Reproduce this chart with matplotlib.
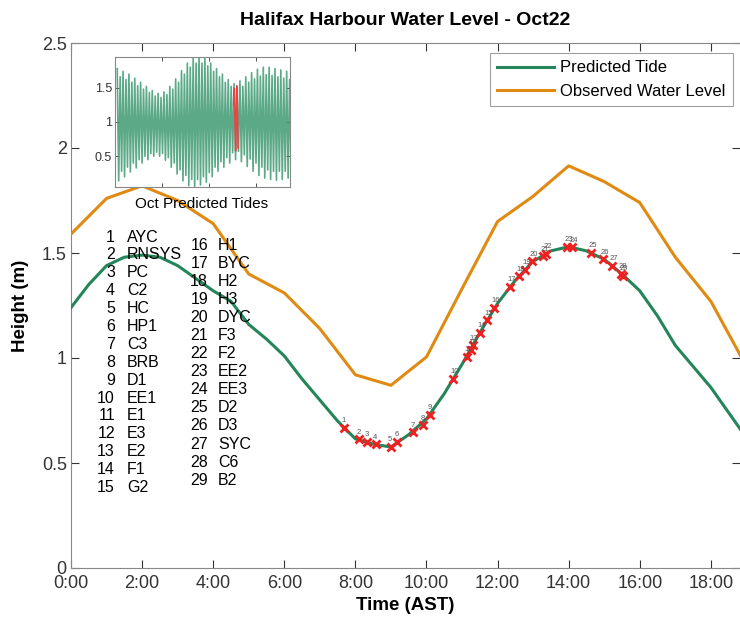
import numpy as np
import matplotlib
matplotlib.use('Agg')
import matplotlib.pyplot as plt

plt.rcParams['font.family'] = ['Liberation Sans', 'DejaVu Sans']

# Oct 22 predicted tide, half-hourly (hours AST, metres)
pred_hours = [0.0, 0.5, 1.0, 1.5, 2.0, 2.5, 3.0, 3.5, 4.0, 4.5, 5.0, 5.5, 6.0, 6.5,
              7.0, 7.5, 8.0, 8.5, 9.0, 9.5, 10.0, 10.5, 11.0, 11.5, 12.0, 12.5,
              13.0, 13.5, 14.0, 14.5, 15.0, 15.5, 16.0, 16.5, 17.0, 17.5, 18.0,
              18.5, 19.0]
pred_height = [1.24, 1.35, 1.44, 1.48, 1.49, 1.48, 1.44, 1.38, 1.32, 1.27, 1.16, 1.09,
               1.01, 0.90, 0.80, 0.70, 0.615, 0.59, 0.576, 0.635, 0.71, 0.83, 0.97,
               1.12, 1.26, 1.37, 1.46, 1.51, 1.53, 1.51, 1.47, 1.40, 1.32, 1.20, 1.06,
               0.96, 0.86, 0.74, 0.62]

# hourly observed water level
obs_hours = list(range(20))
obs_height = [1.59, 1.76, 1.82, 1.75, 1.64, 1.40, 1.31, 1.14, 0.92, 0.87, 1.005,
              1.33, 1.65, 1.77, 1.915, 1.84, 1.74, 1.48, 1.27, 0.96]

# station visit times and tide heights
stn_num = list(range(1, 30))
stn_name = ['AYC', 'RNSYS', 'PC', 'C2', 'HC', 'HP1', 'C3', 'BRB', 'D1', 'EE1',
            'E1', 'E3', 'E2', 'F1', 'G2', 'H1', 'BYC', 'H2', 'H3', 'DYC',
            'F3', 'F2', 'EE2', 'EE3', 'D2', 'D3', 'SYC', 'C6', 'B2']
stn_time = [7.68, 8.10, 8.33, 8.58, 9.00, 9.18, 9.62, 9.90, 10.10, 10.75,
            11.14, 11.25, 11.30, 11.50, 11.70, 11.90, 12.35, 12.60, 12.77, 12.97,
            13.28, 13.36, 13.95, 14.10, 14.63, 14.97, 15.22, 15.47, 15.52]
stn_height = [0.667, 0.614, 0.600, 0.590, 0.576, 0.600, 0.647, 0.680, 0.730, 0.900,
              1.005, 1.040, 1.060, 1.120, 1.180, 1.240, 1.340, 1.390, 1.420, 1.460,
              1.485, 1.495, 1.530, 1.528, 1.500, 1.470, 1.440, 1.400, 1.392]

# October predicted high / low waters (one per tidal cycle)
oct_high = [1.78, 1.66, 1.74, 1.62, 1.70, 1.58, 1.64, 1.53, 1.58, 1.48,
            1.52, 1.43, 1.46, 1.38, 1.42, 1.36, 1.44, 1.40, 1.52, 1.48,
            1.63, 1.58, 1.75, 1.70, 1.86, 1.80, 1.94, 1.86, 1.96, 1.86,
            1.93, 1.82, 1.86, 1.74, 1.78, 1.66, 1.70, 1.58, 1.62, 1.52,
            1.56, 1.50, 1.60, 1.52, 1.66, 1.58, 1.72, 1.63, 1.77, 1.67,
            1.80, 1.69, 1.80, 1.68, 1.78, 1.66, 1.76, 1.64, 1.74, 1.62]
oct_low = [0.14, 0.28, 0.20, 0.34, 0.27, 0.40, 0.33, 0.45, 0.40, 0.50,
           0.45, 0.54, 0.50, 0.56, 0.50, 0.54, 0.44, 0.48, 0.34, 0.40,
           0.24, 0.30, 0.14, 0.22, 0.07, 0.16, 0.06, 0.16, 0.08, 0.20,
           0.12, 0.26, 0.20, 0.34, 0.28, 0.42, 0.34, 0.48, 0.40, 0.55,
           0.45, 0.57, 0.42, 0.52, 0.35, 0.46, 0.28, 0.40, 0.22, 0.34,
           0.18, 0.30, 0.16, 0.28, 0.15, 0.28, 0.16, 0.28, 0.18, 0.30]
FIRST_HIGH = 9.5      # hours after Oct 1 00:00
CYCLE = 12.42         # semidiurnal period (h)
OCT22_START = 21 * 24

GREEN = '#24855a'
ORANGE = '#e08a12'
RED = '#ee2020'

fig = plt.figure(figsize=(7.4, 6.29), dpi=100)
ax = fig.add_axes([71 / 740, 61 / 629, 669 / 740, 525 / 629])

ax.plot(pred_hours, pred_height, color=GREEN, lw=2.2, label='Predicted Tide', zorder=3)
ax.plot(obs_hours, obs_height, color=ORANGE, lw=2.2, label='Observed Water Level', zorder=3)
ax.plot(stn_time, stn_height, ls='none', marker='x', color=RED, ms=6, mew=2, zorder=4)
for n, t, h in zip(stn_num, stn_time, stn_height):
    ax.annotate(str(n), (t, h), xytext=(-2, 4), textcoords='offset points',
                fontsize=5.5, color='#555555', zorder=5)

ax.set_xlim(0, 18.82)
ax.set_ylim(0, 2.5)
ax.set_xticks(range(0, 19, 2))
ax.set_xticklabels([f'{h}:00' for h in range(0, 19, 2)])
ax.set_yticks([0, 0.5, 1, 1.5, 2, 2.5])
ax.set_yticklabels(['0', '0.5', '1', '1.5', '2', '2.5'])
ax.tick_params(direction='in', top=True, right=True, length=6, width=0.8,
               colors='#333333', labelsize=13)
ax.tick_params(axis='x', pad=5)
ax.tick_params(axis='y', pad=3)
for side, sp in ax.spines.items():
    sp.set_color('#888888')
ax.spines['right'].set_visible(False)
ax.set_xlabel('Time (AST)', fontsize=13.5, fontweight='bold', labelpad=4)
ax.set_ylabel('Height (m)', fontsize=13.5, fontweight='bold', labelpad=9)
ax.set_title('Halifax Harbour Water Level - Oct22', fontsize=14, fontweight='bold', pad=13)

leg = ax.legend(loc='upper right', bbox_to_anchor=(0.99, 0.981), borderaxespad=0,
                fontsize=12, frameon=True, fancybox=False, edgecolor='#888888',
                handlelength=3.4, handletextpad=0.4, borderpad=0.45, labelspacing=0.5)
leg.get_frame().set_linewidth(0.8)

# station key, two columns
for i, (n, name) in enumerate(zip(stn_num, stn_name)):
    if n <= 15:
        xn, xs, y0, dy, row = 115, 127, 237, 17.9, i
    else:
        xn, xs, y0, dy, row = 208, 218, 245, 18.1, i - 15
    y = 1 - (y0 + row * dy) / 629
    fig.text(xn / 740, y, str(n), ha='right', va='center', fontsize=11.5)
    fig.text(xs / 740, y, name, ha='left', va='center', fontsize=11.5)

# October inset
ins = fig.add_axes([115 / 740, 442 / 629, 175 / 740, 130 / 629])
tide_t, tide_h = [], []
for k, (hi, lo) in enumerate(zip(oct_high, oct_low)):
    th = FIRST_HIGH + CYCLE * k
    tide_t += [th, th + CYCLE / 2]
    tide_h += [hi, lo]
ins.plot(tide_t, tide_h, color='#3f9a72', lw=1.2, alpha=0.85)
ins.plot([OCT22_START + t for t in pred_hours[:49]], pred_height[:49],
         color='#e84545', lw=1.1)
ins.set_xlim(0, 744)
ins.set_ylim(0.05, 1.95)
ins.set_xticks([200, 400, 600])
ins.set_xticklabels([])
ins.set_yticks([0.5, 1, 1.5])
ins.set_yticklabels(['0.5', '1', '1.5'])
ins.tick_params(direction='in', top=True, right=True, length=3, width=0.6,
                colors='#333333', labelsize=9, pad=2)
for sp in ins.spines.values():
    sp.set_color('#888888')
fig.text(202 / 740, 1 - 204 / 629, 'Oct Predicted Tides', ha='center', va='center', fontsize=11)

fig.savefig('out.png', dpi=100)
